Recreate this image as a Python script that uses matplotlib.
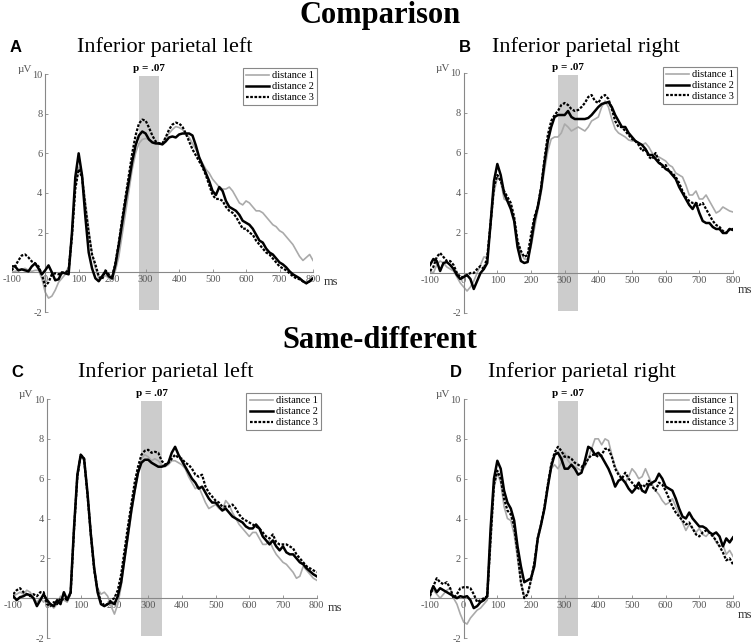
import numpy as np
import matplotlib
matplotlib.use("Agg")
import matplotlib.pyplot as plt

plt.rcParams["axes.unicode_minus"] = False

# ---------------- data ----------------
time_ms = list(range(-100, 801, 10))

xticks = [-100, 0, 100, 200, 300, 400, 500, 600, 700, 800]
yticks = [-2, 2, 4, 6, 8, 10]
series_labels = ["distance 1", "distance 2", "distance 3"]
section_titles = ["Comparison", "Same-different"]
panel_letters = ["A", "B", "C", "D"]
panel_titles = ["Inferior parietal left", "Inferior parietal right",
                "Inferior parietal left", "Inferior parietal right"]
window_ms = [280, 340]
window_label = "p = .07"

A_d1 = [0.0, 0.05, 0.1, 0.15, 0.2, 0.1, 0.05, 0.1, 0.1, -0.3, -1.0, -1.3, -1.2, -0.9, -0.5, -0.3, -0.1, 0.3, 2.0, 4.3,
        5.3, 5.0, 3.6, 2.2, 0.9, 0.2, -0.3, -0.3, -0.15, -0.3, -0.35, 0.1, 0.8, 1.9, 3.0, 4.1, 5.2, 6.0, 6.5, 6.7,
        6.75, 6.7, 6.6, 6.5, 6.45, 6.5, 6.8, 7.0, 7.2, 7.35, 7.3, 7.2, 7.0, 6.8, 6.5, 6.2, 5.8, 5.5, 5.2, 5.0,
        4.7, 4.5, 4.3, 4.2, 4.2, 4.3, 4.1, 3.8, 3.5, 3.4, 3.6, 3.5, 3.3, 3.1, 3.1, 3.0, 2.8, 2.6, 2.4, 2.3,
        2.1, 2.0, 1.8, 1.6, 1.4, 1.1, 0.8, 0.6, 0.75, 0.9, 0.6]
A_d2 = [0.3, 0.3, 0.1, 0.15, 0.1, 0.05, 0.3, 0.45, 0.2, -0.1, 0.1, 0.35, 0.0, -0.4, -0.35, 0.0, -0.05, -0.1, 2.0, 4.8,
        6.0, 4.9, 2.8, 1.0, 0.2, -0.3, -0.45, -0.2, 0.05, -0.2, -0.3, 0.4, 1.4, 2.5, 3.6, 4.6, 5.6, 6.4, 6.9, 7.1,
        7.0, 6.7, 6.55, 6.5, 6.5, 6.45, 6.6, 6.8, 6.85, 6.8, 6.95, 7.0, 7.0, 7.0, 6.9, 6.4, 5.8, 5.4, 5.0, 4.6,
        4.1, 3.9, 4.3, 4.1, 3.6, 3.3, 3.2, 3.1, 2.9, 2.6, 2.5, 2.4, 2.2, 1.9, 1.6, 1.5, 1.2, 1.0, 0.9, 0.7,
        0.5, 0.4, 0.25, 0.05, -0.1, -0.2, -0.3, -0.45, -0.55, -0.45, -0.3]
A_d3 = [0.1, 0.3, 0.6, 0.85, 0.9, 0.75, 0.55, 0.45, 0.3, -0.1, -0.7, -0.5, -0.1, -0.05, -0.1, -0.05, 0.0, 0.1, 1.8, 4.2,
        5.2, 4.8, 3.3, 2.0, 0.9, 0.4, -0.2, -0.35, 0.1, -0.1, -0.3, 0.5, 1.5, 2.7, 3.8, 4.9, 6.0, 6.9, 7.5, 7.7,
        7.65, 7.3, 6.9, 6.6, 6.5, 6.5, 6.8, 7.2, 7.45, 7.55, 7.5, 7.35, 7.0, 6.6, 6.2, 5.9, 5.6, 5.3, 4.9, 4.4,
        3.9, 3.7, 3.7, 3.6, 3.3, 3.1, 3.0, 2.8, 2.5, 2.2, 2.2, 2.0, 1.9, 1.6, 1.4, 1.2, 1.0, 0.9, 0.7, 0.5,
        0.3, 0.2, 0.1, -0.05, -0.2, -0.3, -0.35, -0.45, -0.55, -0.45, -0.3]

B_d1 = [0.1, 0.0, 0.4, 0.6, 0.5, 0.3, 0.2, 0.1, -0.2, -0.5, -0.7, -0.9, -0.7, -0.4, 0.0, 0.4, 0.8, 0.8, 2.3, 4.0,
        4.8, 4.6, 3.7, 3.6, 3.4, 2.7, 1.6, 1.0, 0.7, 0.7, 1.3, 2.2, 3.1, 4.0, 5.1, 6.1, 6.7, 6.8, 6.8, 7.0,
        7.45, 7.3, 7.1, 7.2, 7.3, 7.2, 7.1, 7.3, 7.6, 7.7, 7.8, 8.3, 8.6, 8.3, 7.7, 7.2, 7.0, 6.9, 6.8, 6.65,
        6.6, 6.6, 6.5, 6.4, 6.5, 6.3, 6.0, 5.8, 5.8, 5.7, 5.6, 5.4, 5.3, 5.0, 4.9, 4.8, 4.4, 3.9, 3.9, 4.1,
        3.7, 3.7, 3.9, 3.6, 3.3, 3.0, 3.1, 3.3, 3.2, 3.1, 3.05]
B_d2 = [0.4, 0.7, 0.6, 0.1, 0.5, 0.55, 0.4, 0.2, -0.1, -0.3, -0.2, -0.1, -0.3, -0.8, -0.4, 0.0, 0.2, 0.5, 2.5, 4.6,
        5.45, 4.9, 4.0, 3.6, 3.2, 2.6, 1.3, 0.6, 0.5, 0.55, 1.5, 2.6, 3.3, 4.2, 5.5, 6.6, 7.3, 7.8, 7.9, 7.9,
        7.9, 8.1, 7.8, 7.7, 7.7, 7.7, 7.7, 7.75, 7.9, 8.1, 8.3, 8.45, 8.5, 8.55, 8.3, 7.9, 7.6, 7.3, 7.3, 7.0,
        6.8, 6.6, 6.5, 6.4, 6.2, 5.9, 5.9, 5.7, 5.5, 5.4, 5.2, 5.1, 4.9, 4.7, 4.3, 4.0, 3.7, 3.4, 3.2, 3.5,
        3.0, 2.6, 2.5, 2.5, 2.3, 2.2, 2.2, 2.0, 2.0, 2.2, 2.15]
B_d3 = [0.1, 0.3, 0.8, 1.0, 0.8, 0.6, 0.6, 0.4, 0.0, -0.2, -0.2, -0.1, 0.0, 0.0, 0.2, 0.35, 0.2, 0.8, 2.5, 4.3,
        4.9, 4.6, 4.1, 3.8, 3.5, 2.8, 1.6, 1.1, 0.8, 0.9, 1.9, 2.8, 3.3, 4.3, 5.7, 6.9, 7.6, 7.9, 8.1, 8.4,
        8.5, 8.4, 8.2, 8.1, 8.15, 8.3, 8.5, 8.8, 8.9, 8.6, 8.5, 8.8, 8.9, 8.7, 8.2, 7.6, 7.3, 7.3, 7.1, 6.9,
        6.7, 6.6, 6.4, 6.1, 6.2, 5.8, 5.7, 6.0, 5.6, 5.3, 5.4, 5.1, 5.0, 4.8, 4.5, 4.1, 3.8, 3.6, 3.5, 3.5,
        3.4, 3.5, 3.2, 2.9, 2.6, 2.4, 2.3, 2.1, 2.0, 2.2, 2.2]

C_d1 = [0.1, 0.2, 0.3, 0.2, 0.4, 0.3, 0.0, -0.2, 0.0, -0.2, 0.0, -0.3, -0.5, -0.3, 0.1, -0.1, -0.2, 0.2, 3.3, 6.0,
        7.1, 6.9, 5.2, 3.4, 1.6, 0.5, 0.2, 0.3, 0.1, -0.4, -0.8, -0.3, 0.6, 1.9, 3.0, 4.2, 5.3, 6.3, 7.0, 7.2,
        7.1, 6.9, 7.0, 6.9, 6.7, 6.6, 6.7, 6.9, 6.9, 6.8, 6.7, 6.5, 6.1, 5.8, 5.5, 5.6, 5.2, 4.8, 4.5, 4.6,
        4.7, 4.5, 4.4, 4.9, 4.7, 4.3, 4.0, 3.7, 3.5, 3.3, 3.1, 3.3, 3.3, 3.0, 2.7, 2.7, 2.9, 2.5, 2.2, 2.0,
        1.8, 1.7, 1.5, 1.3, 1.0, 1.1, 1.6, 1.4, 1.2, 1.0, 0.9]
C_d2 = [0.1, -0.1, 0.05, 0.1, 0.2, 0.15, 0.0, -0.4, -0.1, 0.2, -0.1, -0.3, -0.4, -0.1, -0.3, 0.3, -0.1, 0.3, 3.5, 6.2,
        7.2, 7.0, 5.3, 3.2, 1.5, 0.3, -0.3, -0.4, -0.3, -0.2, -0.3, 0.1, 0.8, 2.0, 3.2, 4.4, 5.4, 6.3, 6.8, 6.95,
        6.95, 6.8, 6.7, 6.6, 6.6, 6.65, 6.8, 7.3, 7.6, 7.2, 6.9, 6.6, 6.3, 6.0, 5.8, 5.5, 5.6, 5.3, 5.0, 4.8,
        4.8, 4.6, 4.4, 4.5, 4.3, 4.1, 4.0, 3.9, 3.8, 3.6, 3.5, 3.5, 3.7, 3.5, 3.1, 2.9, 2.7, 2.9, 2.6, 2.4,
        2.6, 2.3, 2.2, 2.2, 2.0, 1.8, 1.7, 1.5, 1.35, 1.2, 1.1]
C_d3 = [0.2, 0.4, 0.5, 0.3, 0.2, 0.1, 0.2, 0.1, 0.3, 0.3, -0.3, -0.4, -0.2, -0.3, 0.0, -0.1, 0.0, 0.2, 3.4, 6.1,
        7.2, 7.0, 5.2, 3.2, 1.4, 0.4, -0.2, -0.35, -0.3, -0.1, 0.0, 0.4, 1.2, 2.4, 3.6, 4.7, 5.8, 6.6, 7.2, 7.4,
        7.45, 7.3, 7.35, 7.3, 6.9, 6.7, 6.8, 7.0, 7.2, 7.05, 7.0, 6.8, 6.7, 6.5, 6.2, 6.1, 6.2, 5.6, 5.3, 5.1,
        4.9, 4.8, 4.6, 4.6, 4.6, 4.7, 4.5, 4.2, 4.0, 3.9, 3.8, 3.7, 3.6, 3.5, 3.3, 3.1, 3.0, 3.2, 2.8, 2.7,
        2.7, 2.7, 2.6, 2.5, 2.2, 2.0, 1.8, 1.6, 1.5, 1.4, 1.3]

D_d1 = [0.3, 0.4, 0.2, 0.0, 0.2, 0.4, 0.5, 0.0, -0.3, -0.8, -1.2, -1.3, -1.0, -0.8, -0.6, -0.5, -0.3, -0.1, 2.6, 5.5,
        6.3, 5.8, 4.6, 4.0, 3.9, 3.2, 2.0, 0.8, 0.1, 0.2, 0.9, 1.8, 2.9, 3.7, 4.5, 5.6, 6.5, 6.7, 6.5, 6.8,
        7.3, 6.9, 6.7, 6.6, 6.5, 6.4, 6.6, 7.0, 7.5, 8.0, 8.0, 7.7, 8.0, 7.9, 7.2, 6.6, 6.3, 6.0, 5.8, 6.1,
        6.5, 6.3, 6.0, 6.1, 6.5, 6.1, 5.7, 5.4, 5.2, 4.9, 4.7, 4.8, 5.0, 4.6, 4.2, 3.8, 3.4, 3.7, 3.5, 3.3,
        3.5, 3.2, 3.1, 3.3, 3.2, 2.8, 2.6, 2.7, 2.2, 2.4, 2.1]
D_d2 = [0.2, 0.6, 0.3, 0.5, 0.4, 0.3, 0.2, 0.1, 0.0, 0.1, 0.05, 0.1, -0.1, -0.5, -0.4, -0.2, -0.1, 0.1, 3.5, 6.0,
        6.9, 6.5, 5.4, 4.8, 4.5, 3.9, 2.6, 1.6, 0.8, 0.9, 1.0, 1.6, 3.0, 3.7, 4.5, 5.6, 6.6, 7.2, 7.3, 7.0,
        6.5, 6.5, 6.7, 6.5, 6.2, 6.3, 6.9, 7.6, 7.5, 7.2, 7.3, 7.1, 6.8, 6.5, 6.1, 5.6, 5.9, 6.0, 5.8, 5.5,
        5.3, 5.5, 5.8, 5.4, 5.3, 5.7, 5.8, 5.9, 6.25, 6.0, 5.6, 5.5, 5.4, 5.0, 4.5, 4.1, 4.0, 4.3, 4.0, 3.8,
        3.6, 3.6, 3.5, 3.3, 3.2, 3.3, 3.1, 2.6, 3.0, 2.8, 3.05]
D_d3 = [0.1, 0.6, 1.0, 0.8, 0.7, 0.8, 0.5, 0.0, 0.2, 0.5, 0.55, 0.55, 0.5, 0.2, -0.2, -0.1, 0.0, 0.1, 3.0, 5.7,
        6.4, 6.0, 5.0, 4.4, 4.2, 3.6, 2.3, 0.8, 0.0, 0.2, 0.9, 1.8, 3.0, 3.7, 4.6, 5.7, 6.7, 7.3, 7.6, 7.4,
        7.1, 7.1, 7.0, 6.8, 6.7, 6.6, 6.7, 7.0, 7.2, 7.2, 7.1, 7.2, 7.5, 7.5, 7.1, 6.5, 6.2, 6.0, 6.3, 6.0,
        5.8, 5.6, 5.5, 5.7, 5.6, 5.9, 5.6, 5.4, 5.8, 5.7, 5.4, 5.0, 4.6, 4.3, 4.1, 3.9, 3.7, 3.8, 3.5, 3.2,
        3.1, 3.3, 3.4, 3.3, 3.1, 2.9, 2.6, 2.3, 1.9, 2.0, 1.7]

panels_data = [(A_d1, A_d2, A_d3), (B_d1, B_d2, B_d3), (C_d1, C_d2, C_d3), (D_d1, D_d2, D_d3)]

# ---------------- figure ----------------
W, H = 756, 644
fig = plt.figure(figsize=(W / 100, H / 100), dpi=100)
serif = ["Liberation Serif", "DejaVu Serif"]
sans = ["Liberation Sans", "DejaVu Sans"]

# axes rectangles in pixels: (left, right, top, bottom)
rects_px = [(11.7, 313, 74, 312), (430, 733, 73, 313),
            (13.3, 316.7, 399, 638), (430, 733, 399, 638)]
title_pos = [(165, 47), (586, 47), (166, 372), (582, 372)]
letter_pos = [(16, 48), (465, 48), (17, 373), (456, 373)]
ms_pos = [(1.035, 0.125), (1.015, 0.095), (1.035, 0.125), (1.015, 0.095)]

styles = [dict(color="#aaaaaa", lw=1.2, ls="-"),
          dict(color="black", lw=1.8, ls="-"),
          dict(color="black", lw=1.6, ls=(0, (1.2, 0.7)))]

for i, (l, r, t, b) in enumerate(rects_px):
    ax = fig.add_axes([l / W, 1 - b / H, (r - l) / W, (b - t) / H])
    ax.set_xlim(-100, 800)
    ax.set_ylim(-2, 10)
    ax.patch.set_alpha(0)
    for s in ["top", "right"]:
        ax.spines[s].set_visible(False)
    ax.spines["left"].set_position(("data", 0))
    ax.spines["bottom"].set_position(("data", 0))
    ax.spines["left"].set_bounds(-2, 10)
    ax.spines["bottom"].set_bounds(-100, 800)
    for s in ["left", "bottom"]:
        ax.spines[s].set_color("#888888")
        ax.spines[s].set_linewidth(0.8)
    ax.set_xticks(xticks)
    ax.set_yticks(yticks)
    ax.tick_params(direction="in", length=2, width=0.6, color="#888888",
                   labelsize=7.5, labelcolor="#555555", pad=2)
    for lab in ax.get_xticklabels() + ax.get_yticklabels():
        lab.set_family(serif)

    # shaded window
    ax.fill_between(window_ms, [-1.9, -1.9], [9.9, 9.9], color="#cccccc",
                    lw=0, zorder=0)
    ax.text(np.mean(window_ms), 10.05, window_label, ha="center", va="bottom",
            fontsize=8, fontweight="bold", family=serif, clip_on=False)

    handles = []
    for k, (vals, st) in enumerate(zip(panels_data[i], styles)):
        h, = ax.plot(time_ms, vals, label=series_labels[k], zorder=2 + k, **st)
        handles.append(h)

    leg = ax.legend(handles=handles, loc="upper right", bbox_to_anchor=(1.013, 1.025),
                    borderaxespad=0, fancybox=False, framealpha=1, edgecolor="#888888",
                    prop={"family": serif, "size": 7.5}, handlelength=2.2,
                    handletextpad=0.3, borderpad=0.3, labelspacing=0.15)
    leg.get_frame().set_linewidth(0.8)

    ax.text(-62, 10.0, "\u00b5V", ha="center", va="bottom", fontsize=8,
            family=serif, color="#555555", clip_on=False)
    ax.text(ms_pos[i][0], ms_pos[i][1], "ms", transform=ax.transAxes, ha="left",
            va="center", fontsize=9, family=serif, color="#333333", clip_on=False)

    fig.text(title_pos[i][0] / W, 1 - title_pos[i][1] / H, panel_titles[i],
             ha="center", va="center", fontsize=16, family=serif)
    fig.text(letter_pos[i][0] / W, 1 - letter_pos[i][1] / H, panel_letters[i],
             ha="center", va="center", fontsize=12, fontweight="bold", family=sans)

fig.text(380 / W, 1 - 15 / H, section_titles[0], ha="center", va="center",
         fontsize=22, fontweight="bold", family=serif)
fig.text(380 / W, 1 - 340 / H, section_titles[1], ha="center", va="center",
         fontsize=22, fontweight="bold", family=serif)

fig.savefig("out.png", dpi=100)
